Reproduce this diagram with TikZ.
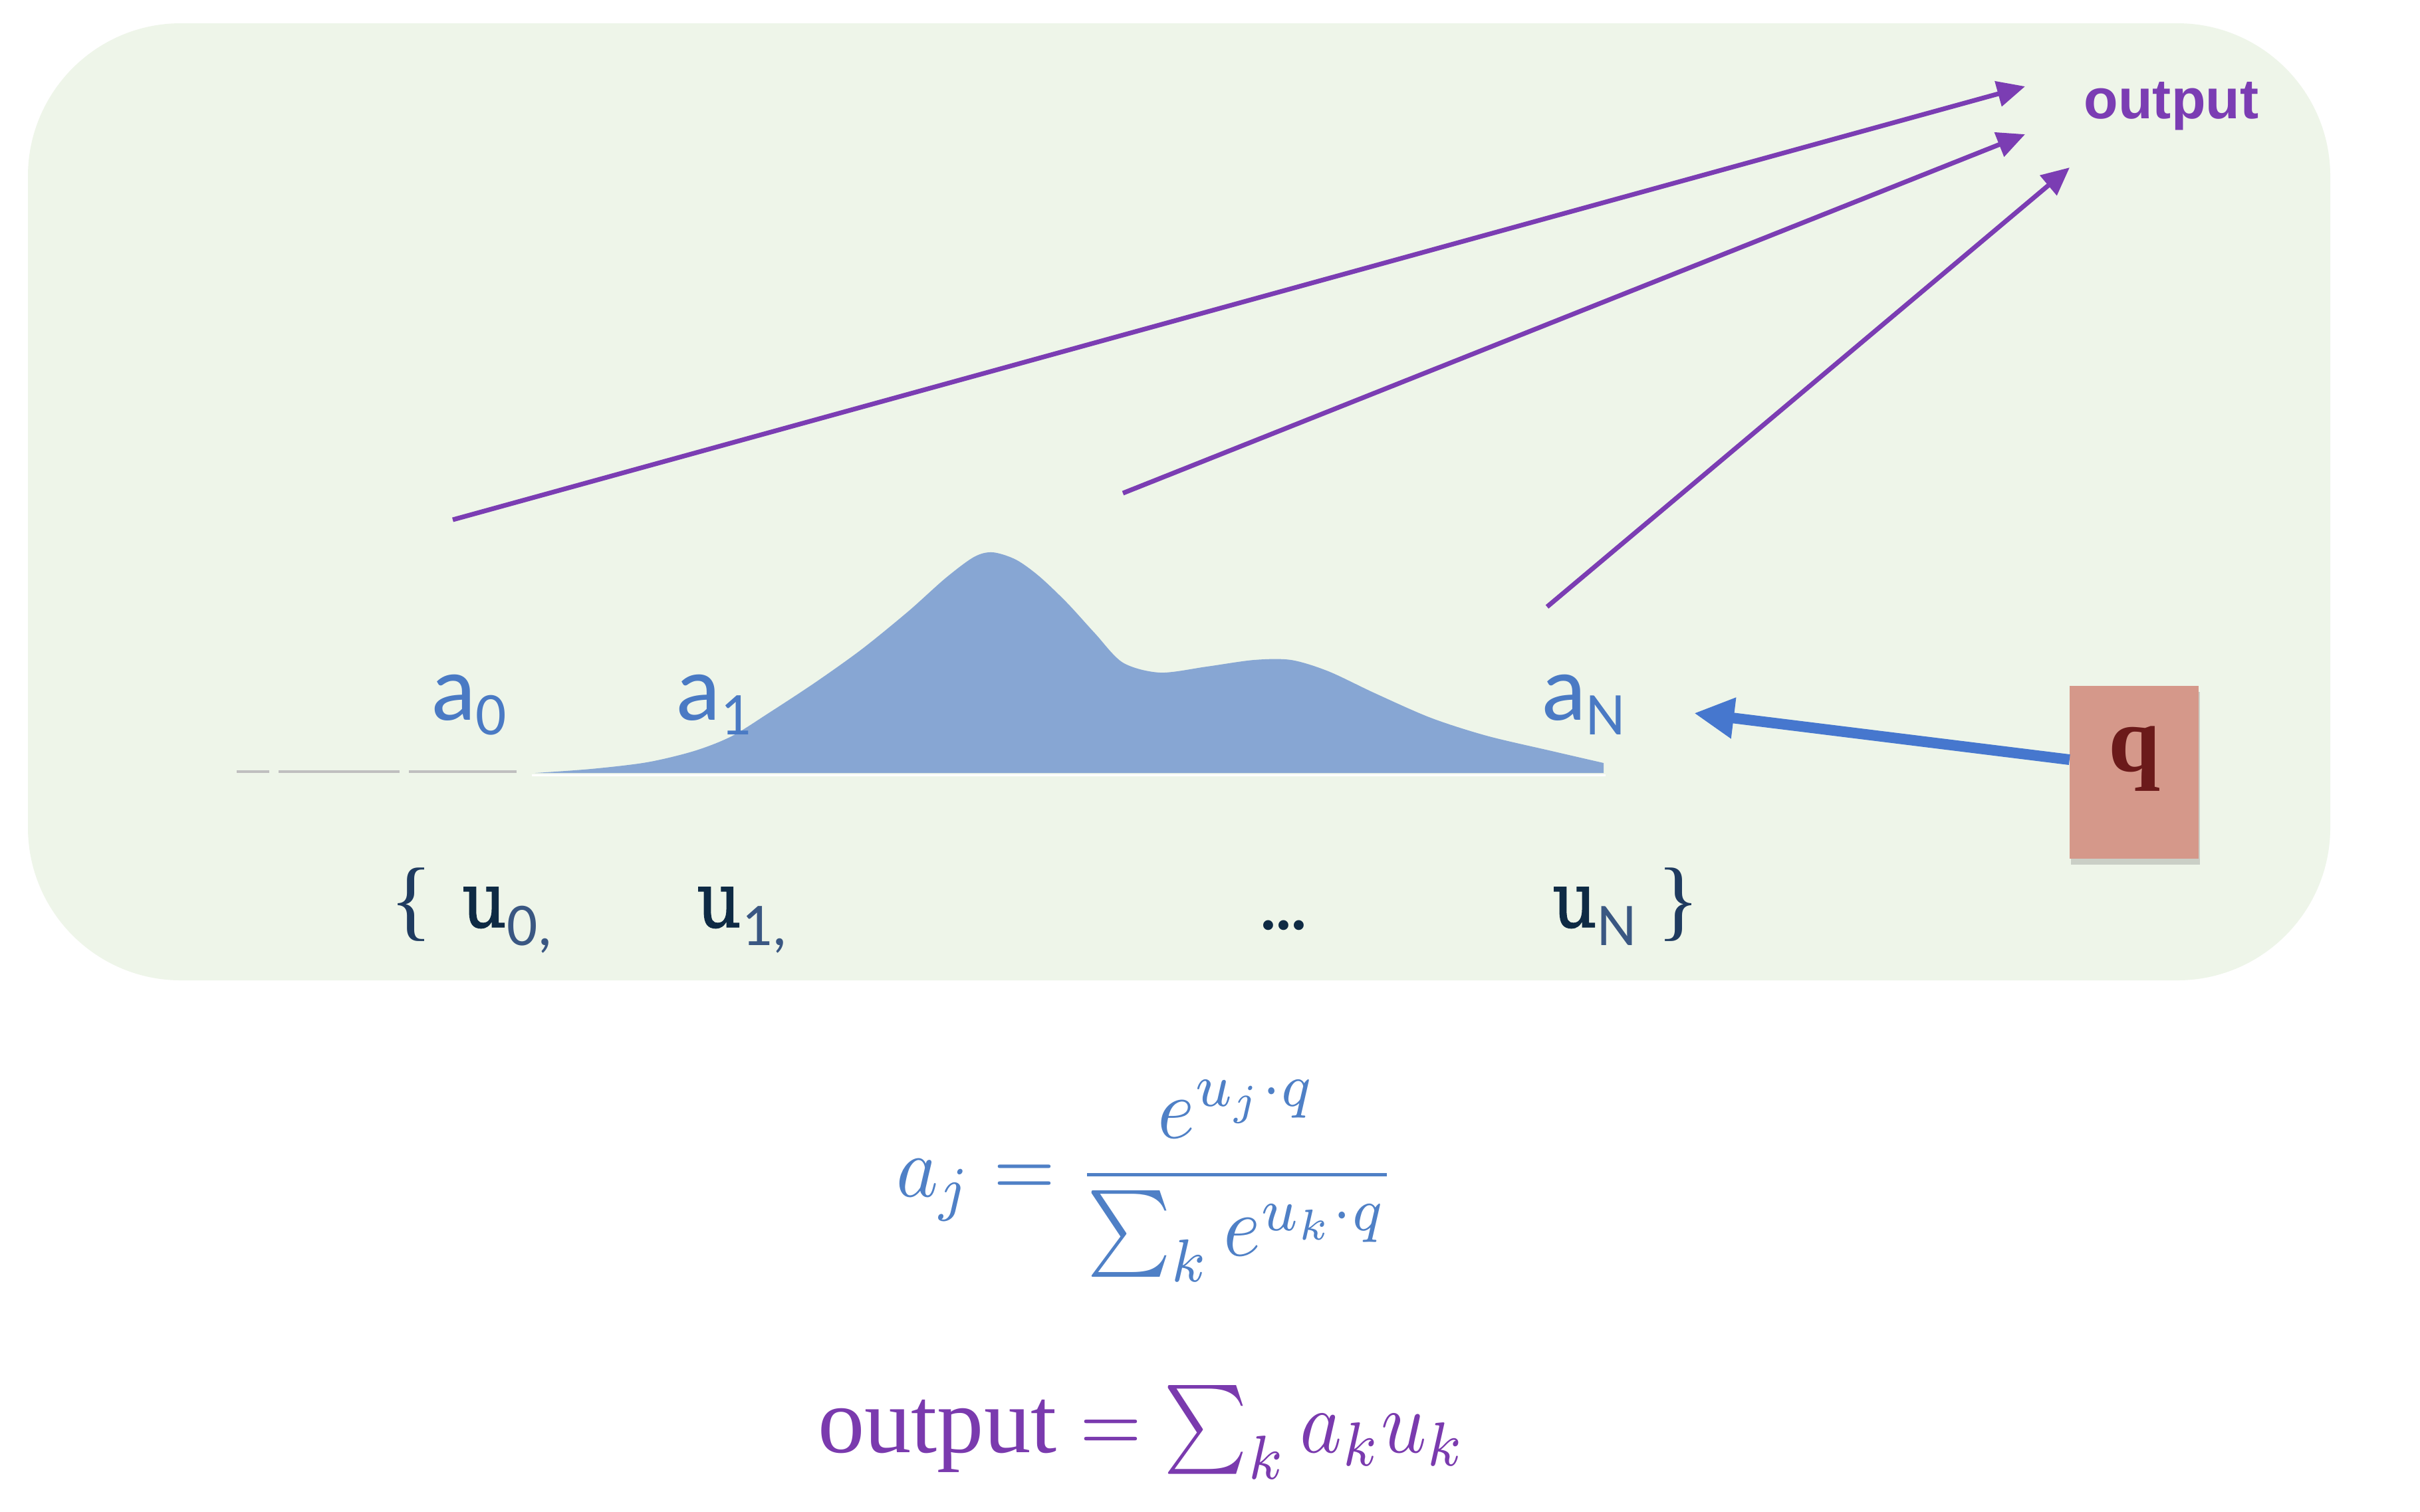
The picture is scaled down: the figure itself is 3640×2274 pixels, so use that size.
\documentclass[tikz,border=0pt]{standalone}
\usepackage{fontspec}
\usepackage{graphicx}
\setmainfont{Liberation Serif}
\newfontfamily\calib{Carlito}
\newfontfamily\arialf{Liberation Sans}
\newfontfamily\dejaser{DejaVu Serif}[FakeBold=1.2]
\usetikzlibrary{arrows.meta,shadows}
\definecolor{bgg}{HTML}{EEF5E9}
\definecolor{purp}{HTML}{7B3DB3}
\definecolor{distb}{HTML}{87A6D3}
\definecolor{lblb}{HTML}{4A7AC4}
\definecolor{navy}{HTML}{0E2A44}
\definecolor{subnavy}{HTML}{3A5782}
\definecolor{bracec}{HTML}{1F3B60}
\definecolor{qfill}{HTML}{D5988A}
\definecolor{qtext}{HTML}{6B1A1A}
\definecolor{qarrow}{HTML}{4677CE}
\definecolor{fblue}{HTML}{4F80C6}
\definecolor{fpurp}{HTML}{7A3AAE}
\newcommand\asub[1]{\raisebox{-0.22cm}{\fontsize{26pt}{26pt}\selectfont #1}}
\newcommand\usub[1]{\raisebox{-0.27cm}{\color{subnavy}\calib\mdseries\fontsize{26pt}{26pt}\selectfont #1}}
\newcommand\uu{\scalebox{0.9}[1]{u}}
\begin{document}
\begin{tikzpicture}[x=0.01cm,y=-0.01cm,
  txt/.style={inner sep=0pt, outer sep=0pt},
  alabel/.style={txt, text=lblb, font=\calib\fontsize{40pt}{40pt}\selectfont, anchor=base west},
  ulabel/.style={txt, text=navy, font=\dejaser\fontsize{33pt}{33pt}\selectfont, anchor=base west},
  bracel/.style={txt, text=bracec, font=\fontsize{38pt}{38pt}\selectfont, anchor=base west},
  parrow/.style={draw=purp, line width=0.07cm, -{Triangle[length=0.42cm,width=0.38cm]}},
  qarr/.style={draw=qarrow, line width=0.16cm, -{Triangle[length=0.6cm,width=0.58cm]}},
  qbox/.style={fill=qfill, minimum width=1.93cm, minimum height=2.6cm, inner sep=0pt,
    drop shadow={shadow xshift=0.02cm, shadow yshift=-0.09cm, opacity=0.22, fill=black!70}},
  gline/.style={draw=black!25, line width=0.045cm}
]
\useasboundingbox (0,0) rectangle (3640,2274);
\fill[white] (0,0) rectangle (3640,2274);
% background panel
\fill[bgg, rounded corners=2.3cm] (42,35) rectangle (3505,1475);

% distribution
\draw[gline] (356,1161) -- (405,1161);
\draw[gline] (419,1161) -- (601,1161);
\draw[gline] (615,1161) -- (777,1161);
\fill[distb] (805,1163) -- plot[smooth,tension=0.5] coordinates {(805,1163) (889,1157) (973,1147) (1044,1130) (1100,1108) (1156,1073) (1226,1027) (1296,977) (1366,920) (1422,870) (1465,838) (1493,831) (1528,842) (1563,867) (1605,907) (1647,953) (1689,997) (1745,1012) (1815,1003) (1886,993) (1942,993) (1998,1010) (2068,1043) (2152,1080) (2236,1107) (2334,1130) (2412,1148)} -- (2412,1163) -- cycle;
\draw[white, line width=0.03cm] (800,1166) -- (2415,1166);

% labels a
\node[alabel] (a0) at (648,1083) {a\asub{0}};
\node[alabel] (a1) at (1016,1083) {a\asub{1}};
\node[alabel] (aN) at (2318,1083) {a\asub{N}};

% u set
\node[bracel] (lb) at (586,1398) {\{};
\node[ulabel] (u0) at (695,1395) {\uu\usub{0,}};
\node[ulabel] (u1) at (1048,1395) {\uu\usub{1,}};
\node[txt, text=navy, font=\bfseries\fontsize{26pt}{26pt}\selectfont, anchor=base] (dots) at (1931,1398) {...};
\node[ulabel] (uN) at (2335,1395) {\uu\usub{N}};
\node[bracel] (rb) at (2492,1398) {\}};

% output label
\node[txt, text=purp, font=\arialf\bfseries\fontsize{24pt}{24pt}\selectfont, anchor=base] (out) at (3266,178) {output};

% purple arrows
\coordinate (s0) at (681,782);
\coordinate (s1) at (1689,742);
\coordinate (s2) at (2327,913);
\coordinate (e0) at (3046,130);
\coordinate (e1) at (3046,202);
\coordinate (e2) at (3113,252);
\draw[parrow] (s0) -- (e0);
\draw[parrow] (s1) -- (e1);
\draw[parrow] (s2) -- (e2);

% q box
\node[qbox] (q) at (3210,1162) {};
\node[txt, text=qtext, font=\bfseries\fontsize{40pt}{40pt}\selectfont, anchor=base] (qt) at (3211,1160) {q};
\coordinate (qtip) at (2548,1073);
\draw[qarr] ([yshift=0.19cm]q.west) -- (qtip);

% formulas
\node[txt, text=fblue, anchor=base west] (f1) at (1348,1800)
  {\scalebox{3.4}[3.7]{$\displaystyle a_j = \frac{e^{u_j\cdot q}}{\sum_k e^{u_k\cdot q}}$}};
\node[txt, text=fpurp, anchor=base west] (f2) at (1230,2185)
  {\scalebox{4}{output \scalebox{0.85}[0.95]{$=\sum_k a_k u_k$}}};
\end{tikzpicture}
\end{document}
